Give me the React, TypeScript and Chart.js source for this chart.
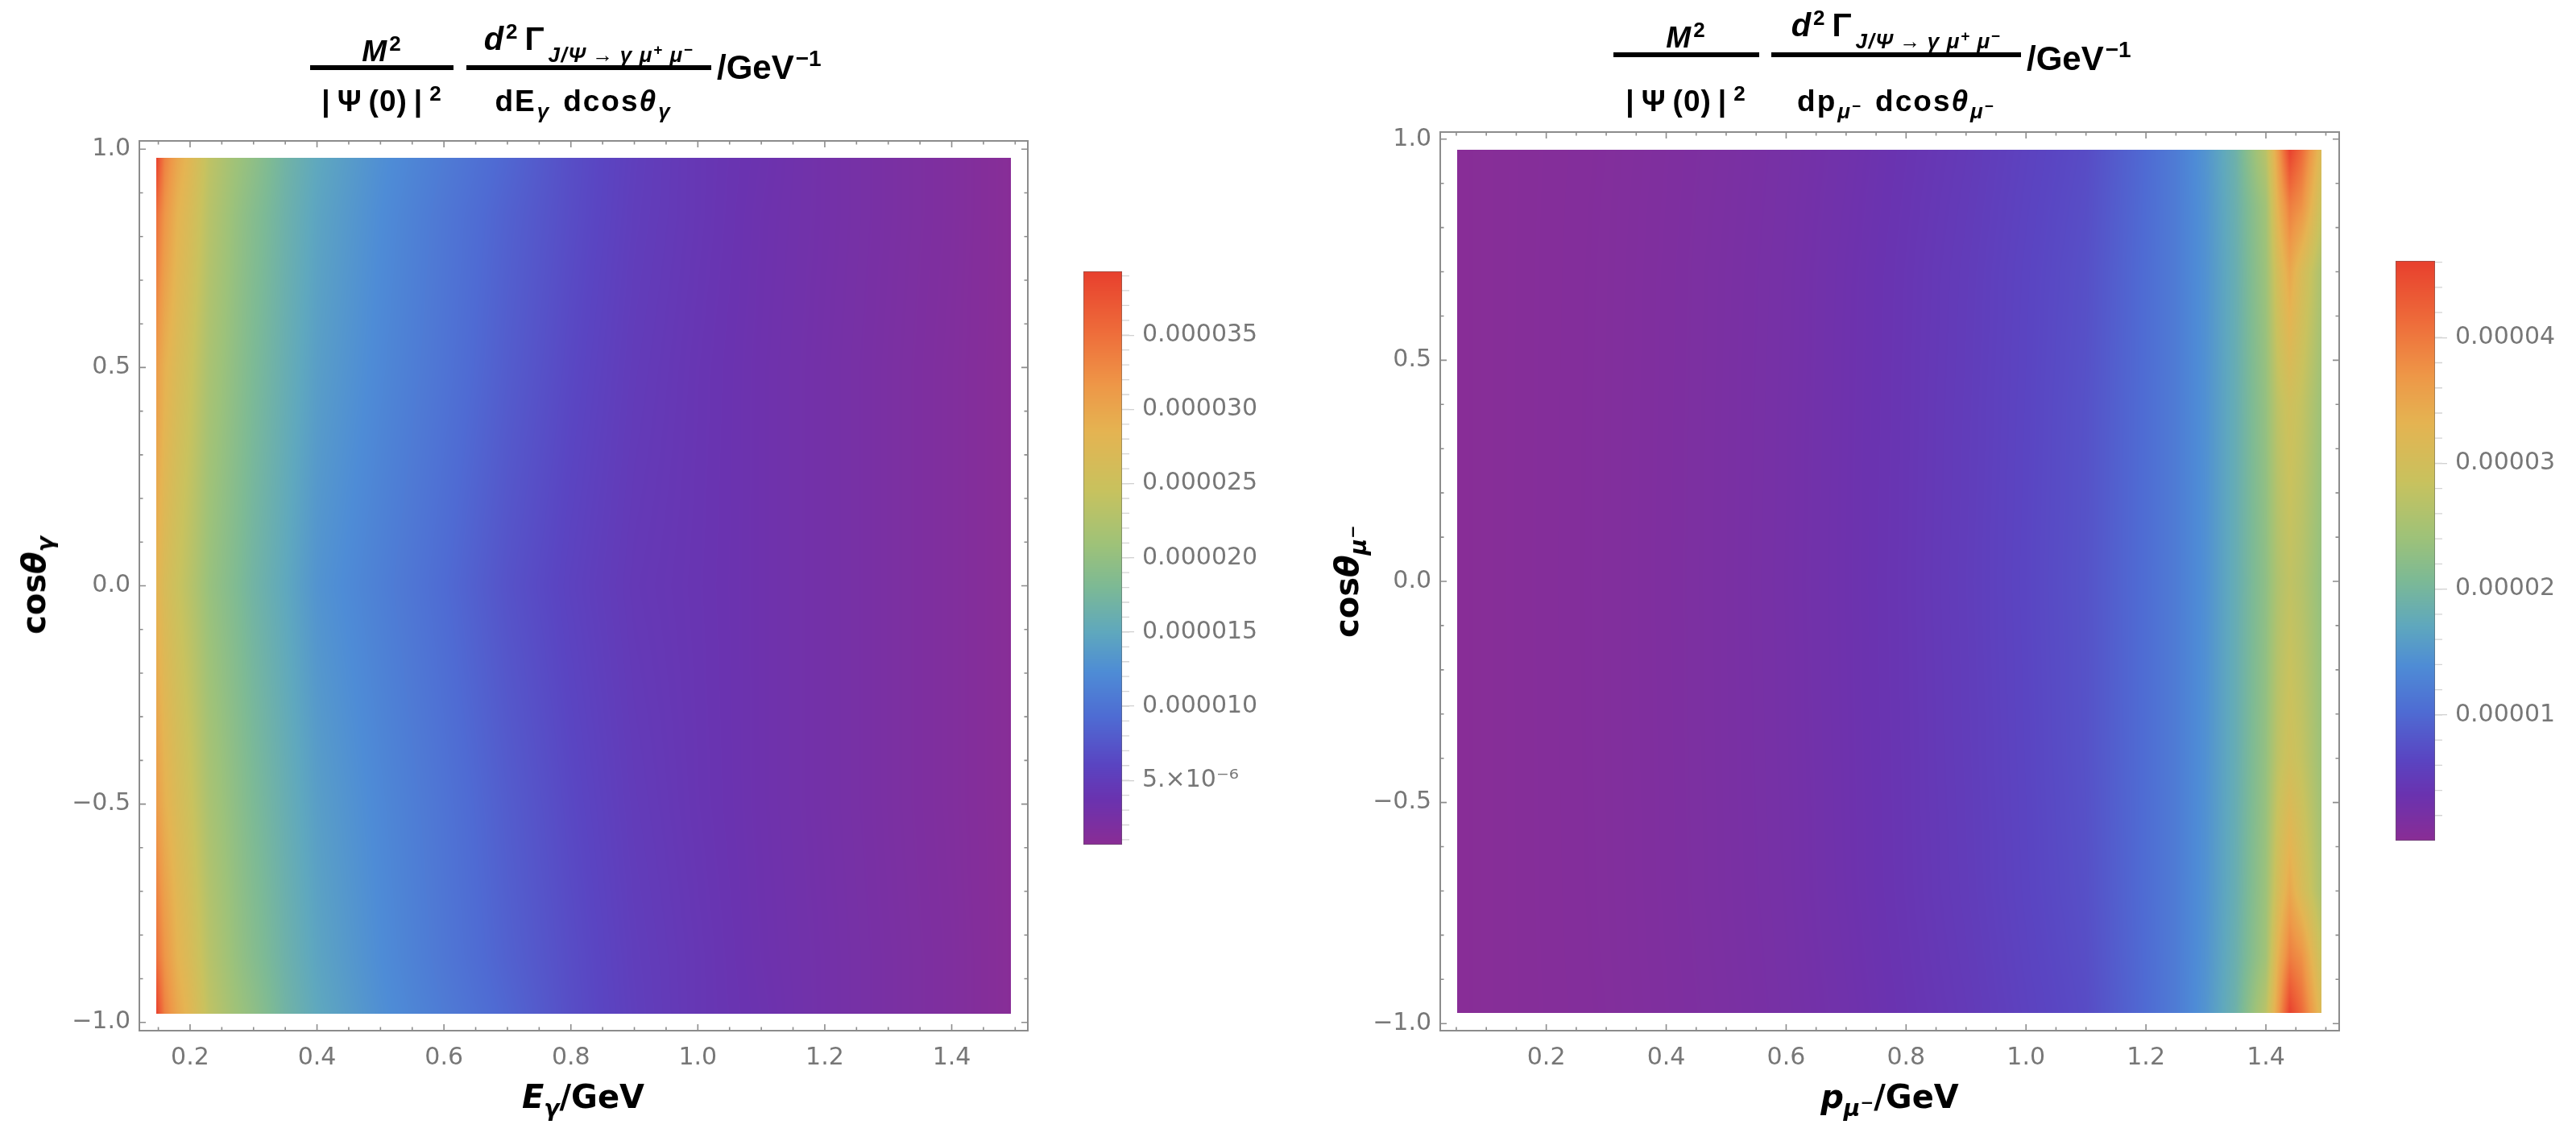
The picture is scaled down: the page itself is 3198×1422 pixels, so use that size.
import React, { useEffect, useRef } from "react";
import { Chart, registerables } from "chart.js";
Chart.register(...registerables);

// ---------------- data (values in units of 1e-6 GeV^-1) ----------------
const UNIT = 1e-6;

// left panel : d^2Γ / dEγ dcosθγ
const leftEnergy = [0.147, 0.16, 0.18, 0.2, 0.23, 0.27, 0.3, 0.35, 0.4, 0.5, 0.6, 0.7, 0.8, 0.9, 1.0, 1.1, 1.2, 1.3, 1.4, 1.493];
const leftCos = [-0.98, -0.85, -0.5, 0, 0.5, 0.85, 0.98];
const leftRowM098 = [39.3, 33.5, 30.0, 27.7, 23.8, 21.1, 19.6, 16.9, 15.0, 12.6, 10.7, 8.8, 6.8, 5.3, 4.3, 3.6, 2.9, 2.3, 1.7, 0.9];
const leftRowM085 = [35.0, 31.8, 28.6, 26.6, 23.1, 20.4, 18.8, 16.5, 14.6, 12.3, 10.3, 8.4, 6.7, 5.2, 4.3, 3.5, 2.9, 2.3, 1.7, 0.9];
const leftRowM050 = [31.2, 28.9, 26.8, 25.0, 21.9, 19.6, 18.0, 15.9, 14.0, 11.9, 10.0, 8.0, 6.3, 4.9, 4.1, 3.4, 2.8, 2.2, 1.6, 0.9];
const leftRow000 = [28.5, 26.6, 24.8, 23.1, 20.4, 18.4, 16.9, 15.0, 13.0, 11.1, 9.2, 7.2, 5.7, 4.5, 4.0, 3.4, 2.8, 2.2, 1.6, 0.9];
const leftRowP050 = [31.2, 28.9, 26.8, 25.0, 21.9, 19.6, 18.0, 15.9, 14.0, 11.9, 10.0, 8.0, 6.3, 4.9, 4.1, 3.4, 2.8, 2.2, 1.6, 0.9];
const leftRowP085 = [35.0, 31.8, 28.6, 26.6, 23.1, 20.4, 18.8, 16.5, 14.6, 12.3, 10.3, 8.4, 6.7, 5.2, 4.3, 3.5, 2.9, 2.3, 1.7, 0.9];
const leftRowP098 = [39.3, 33.5, 30.0, 27.7, 23.8, 21.1, 19.6, 16.9, 15.0, 12.6, 10.7, 8.8, 6.8, 5.3, 4.3, 3.6, 2.9, 2.3, 1.7, 0.9];
const leftColorRange = [0.67, 39.3];
const leftBarTicks = [5, 10, 15, 20, 25, 30, 35];
const leftBarLabels = ["5.×10⁻⁶", "0.000010", "0.000015", "0.000020", "0.000025", "0.000030", "0.000035"];
const leftXTicks = [0.2, 0.4, 0.6, 0.8, 1.0, 1.2, 1.4];

// right panel : d^2Γ / dpμ- dcosθμ-
const rightMomentum = [0.052, 0.1, 0.2, 0.3, 0.4, 0.5, 0.6, 0.7, 0.8, 0.9, 1.0, 1.1, 1.2, 1.25, 1.3, 1.35, 1.4, 1.42, 1.44, 1.46, 1.493];
const rightCos = [-0.976, -0.85, -0.7, -0.4, 0, 0.4, 0.7, 0.85, 0.976];
const rightRowM0976 = [0.23, 0.37, 0.65, 0.92, 1.3, 1.75, 2.3, 3.0, 3.9, 4.8, 6.0, 7.1, 10.1, 12.0, 14.8, 18.9, 27.0, 36.0, 46.0, 41.5, 31.3];
const rightRowM085 = [0.23, 0.37, 0.66, 0.95, 1.33, 1.8, 2.35, 3.1, 4.0, 4.95, 6.15, 7.3, 10.2, 12.0, 14.6, 18.5, 24.5, 33.5, 39.6, 37.5, 28.6];
const rightRowM070 = [0.23, 0.37, 0.67, 0.97, 1.36, 1.85, 2.4, 3.2, 4.1, 5.1, 6.3, 7.5, 10.3, 12.0, 14.5, 18.2, 24.0, 30.5, 35.0, 31.0, 25.4];
const rightRowM040 = [0.23, 0.37, 0.68, 0.99, 1.38, 1.88, 2.45, 3.25, 4.15, 5.2, 6.4, 7.7, 10.35, 12.0, 14.4, 18.0, 23.2, 27.5, 29.5, 28.0, 24.0];
const rightRow000 = [0.23, 0.37, 0.69, 1.0, 1.4, 1.9, 2.5, 3.3, 4.2, 5.3, 6.5, 7.8, 10.4, 12.0, 14.3, 18.0, 22.6, 26.0, 27.7, 26.5, 23.1];
const rightRowP040 = [0.23, 0.37, 0.68, 0.99, 1.38, 1.88, 2.45, 3.25, 4.15, 5.2, 6.4, 7.7, 10.35, 12.0, 14.4, 18.0, 23.2, 27.5, 29.5, 28.0, 24.0];
const rightRowP070 = [0.23, 0.37, 0.67, 0.97, 1.36, 1.85, 2.4, 3.2, 4.1, 5.1, 6.3, 7.5, 10.3, 12.0, 14.5, 18.2, 24.0, 30.5, 35.0, 31.0, 25.4];
const rightRowP085 = [0.23, 0.37, 0.66, 0.95, 1.33, 1.8, 2.35, 3.1, 4.0, 4.95, 6.15, 7.3, 10.2, 12.0, 14.6, 18.5, 24.5, 33.5, 39.6, 37.5, 28.6];
const rightRowP0976 = [0.23, 0.37, 0.65, 0.92, 1.3, 1.75, 2.3, 3.0, 3.9, 4.8, 6.0, 7.1, 10.1, 12.0, 14.8, 18.9, 27.0, 36.0, 46.0, 41.5, 31.3];
const rightColorRange = [0.0, 46.1];
const rightBarTicks = [10, 20, 30, 40];
const rightBarLabels = ["0.00001", "0.00002", "0.00003", "0.00004"];
const rightXTicks = [0.2, 0.4, 0.6, 0.8, 1.0, 1.2, 1.4];

const yTicks = [-1, -0.5, 0, 0.5, 1];

// ---------------- styling ----------------
const RAINBOW: [number, string][] = [
  [0, "#8A2D95"], [0.08, "#6A33B0"], [0.14, "#5A45C2"], [0.22, "#4F6BD3"],
  [0.3, "#4E8CD6"], [0.37, "#5FA8BE"], [0.45, "#7DBA95"], [0.52, "#9DC27A"],
  [0.62, "#C9C25E"], [0.72, "#E5B452"], [0.8, "#EE9848"], [0.9, "#EE6A3A"], [1, "#E8402E"],
];
const TICK_FONT = "'DejaVu Sans', sans-serif";
const AXIS_FONT = "'DejaVu Sans', sans-serif";
const TITLE_FONT = "'Liberation Sans', Arial, sans-serif";
const GRAY = "#777777";
const FRAME = "#8c8c8c";

const rgb = RAINBOW.map(([t, h]) => [t, parseInt(h.slice(1, 3), 16), parseInt(h.slice(3, 5), 16), parseInt(h.slice(5, 7), 16)]);
function colorAt(t: number): [number, number, number] {
  const u = Math.max(0, Math.min(1, t));
  for (let i = 0; i < rgb.length - 1; i++) {
    const a = rgb[i], b = rgb[i + 1];
    if (u <= b[0]) {
      const f = (u - a[0]) / (b[0] - a[0]);
      return [a[1] + (b[1] - a[1]) * f, a[2] + (b[2] - a[2]) * f, a[3] + (b[3] - a[3]) * f];
    }
  }
  const l = rgb[rgb.length - 1];
  return [l[1], l[2], l[3]];
}

function seg(arr: number[], v: number): [number, number] {
  if (v <= arr[0]) return [0, 0];
  const n = arr.length - 1;
  if (v >= arr[n]) return [n - 1, 1];
  for (let i = 0; i < n; i++) if (v <= arr[i + 1]) return [i, (v - arr[i]) / (arr[i + 1] - arr[i])];
  return [n - 1, 1];
}

function range(a: number, b: number, s: number) {
  const out: number[] = [];
  for (let v = a; v <= b + 1e-9; v += s) out.push(Math.round(v * 1000) / 1000);
  return out;
}

// heat map drawn from the grid through the chart scales
function heatPlugin(xs: number[], ys: number[], rows: number[][], cr: number[]) {
  return {
    id: "heat",
    beforeDatasetsDraw(chart: any) {
      const { ctx, scales } = chart;
      const x = scales.x, y = scales.y;
      const px0 = Math.round(x.getPixelForValue(xs[0]));
      const px1 = Math.round(x.getPixelForValue(xs[xs.length - 1]));
      const py0 = Math.round(y.getPixelForValue(ys[ys.length - 1]));
      const py1 = Math.round(y.getPixelForValue(ys[0]));
      const w = px1 - px0, h = py1 - py0;
      const off = document.createElement("canvas");
      off.width = w; off.height = h;
      const octx = off.getContext("2d")!;
      const img = octx.createImageData(w, h);
      const colSeg = [] as [number, number][];
      for (let i = 0; i < w; i++) colSeg.push(seg(xs, x.getValueForPixel(px0 + i + 0.5)));
      for (let j = 0; j < h; j++) {
        const [r, fy] = seg(ys, y.getValueForPixel(py0 + j + 0.5));
        const r0 = rows[r], r1 = rows[r + 1];
        for (let i = 0; i < w; i++) {
          const [c, fx] = colSeg[i];
          const a = r0[c] + (r0[c + 1] - r0[c]) * fx;
          const b = r1[c] + (r1[c + 1] - r1[c]) * fx;
          const v = a + (b - a) * fy;
          const col = colorAt((v - cr[0]) / (cr[1] - cr[0]));
          const k = (j * w + i) * 4;
          img.data[k] = col[0]; img.data[k + 1] = col[1]; img.data[k + 2] = col[2]; img.data[k + 3] = 255;
        }
      }
      octx.putImageData(img, 0, 0);
      ctx.drawImage(off, px0, py0);
    },
  };
}

function framePlugin(xMajor: number[], xMinor: number[], yMajor: number[], yMinor: number[]) {
  return {
    id: "frame",
    afterDraw(chart: any) {
      const { ctx, chartArea: a, scales } = chart;
      ctx.save();
      ctx.strokeStyle = FRAME;
      ctx.lineWidth = 2;
      ctx.strokeRect(a.left, a.top, a.right - a.left, a.bottom - a.top);
      ctx.lineWidth = 1.6;
      ctx.beginPath();
      const xt = (vals: number[], len: number) => vals.forEach((v) => {
        const p = scales.x.getPixelForValue(v);
        if (p < a.left || p > a.right) return;
        ctx.moveTo(p, a.bottom); ctx.lineTo(p, a.bottom - len);
        ctx.moveTo(p, a.top); ctx.lineTo(p, a.top + len);
      });
      const yt = (vals: number[], len: number) => vals.forEach((v) => {
        const p = scales.y.getPixelForValue(v);
        if (p < a.top || p > a.bottom) return;
        ctx.moveTo(a.left, p); ctx.lineTo(a.left + len, p);
        ctx.moveTo(a.right, p); ctx.lineTo(a.right - len, p);
      });
      xt(xMajor, 8); xt(xMinor, 4.5); yt(yMajor, 8); yt(yMinor, 4.5);
      ctx.stroke();
      ctx.restore();
    },
  };
}

function barPlugin(cr: number[], minor: number[]) {
  return {
    id: "cbar",
    beforeDatasetsDraw(chart: any) {
      const { ctx, chartArea: a, scales } = chart;
      const y = scales.y;
      for (let p = Math.floor(a.top); p < a.bottom; p++) {
        const v = y.getValueForPixel(p + 0.5);
        const c = colorAt((v - cr[0]) / (cr[1] - cr[0]));
        ctx.fillStyle = `rgb(${c[0] | 0},${c[1] | 0},${c[2] | 0})`;
        ctx.fillRect(a.left, p, a.right - a.left, 1);
      }
      ctx.save();
      ctx.strokeStyle = "rgba(90,90,90,0.45)";
      ctx.lineWidth = 1;
      ctx.strokeRect(a.left + 0.5, a.top + 0.5, a.right - a.left - 1, a.bottom - a.top - 1);
      ctx.strokeStyle = "#d4d4d4";
      ctx.lineWidth = 1.3;
      ctx.beginPath();
      minor.forEach((v) => {
        const p = y.getPixelForValue(v);
        if (p < a.top || p > a.bottom) return;
        ctx.moveTo(a.right, p); ctx.lineTo(a.right + 9, p);
      });
      ctx.stroke();
      ctx.restore();
    },
  };
}

const fmtY = (v: number) => (v < 0 ? "−" : "") + Math.abs(v).toFixed(1);

function mainConfig(o: any) {
  const points: any[] = [];
  o.ys.forEach((yv: number, r: number) => o.xs.forEach((xv: number, c: number) => points.push({ x: xv, y: yv, v: o.rows[r][c] * UNIT })));
  return {
    type: "scatter",
    data: { datasets: [{ data: points, pointRadius: 0, pointHoverRadius: 0, showLine: false }] },
    options: {
      animation: false, responsive: false, devicePixelRatio: 1,
      layout: { padding: { top: o.top, right: o.right, left: 0, bottom: 0 } },
      plugins: { legend: { display: false }, tooltip: { enabled: false } },
      scales: {
        x: {
          type: "linear", min: o.xmin, max: o.xmax,
          grid: { display: false, drawTicks: false }, border: { display: false },
          ticks: { font: { family: TICK_FONT, size: 30 }, color: GRAY, padding: 16, callback: (v: number) => v.toFixed(1) },
          afterBuildTicks: (s: any) => { s.ticks = o.xTicks.map((v: number) => ({ value: v })); },
          afterFit: (s: any) => { s.height = o.xAxisH; },
        },
        y: {
          type: "linear", min: o.ymin, max: o.ymax,
          grid: { display: false, drawTicks: false }, border: { display: false },
          ticks: { font: { family: TICK_FONT, size: 30 }, color: GRAY, padding: 11, callback: (v: number) => fmtY(v) },
          afterBuildTicks: (s: any) => { s.ticks = yTicks.map((v) => ({ value: v })); },
          afterFit: (s: any) => { s.width = o.yAxisW; },
        },
      },
    },
    plugins: [heatPlugin(o.xs, o.ys, o.rows, o.cr), framePlugin(o.xTicks, o.xMinor, yTicks, range(-1, 1, 0.1))],
  };
}

function barConfig(o: any) {
  return {
    type: "scatter",
    data: { datasets: [{ data: o.ticks.map((t: number) => ({ x: 0, y: t })), pointRadius: 0, pointHoverRadius: 0 }] },
    options: {
      animation: false, responsive: false, devicePixelRatio: 1,
      layout: { padding: { top: o.top, bottom: o.bottom, left: o.left, right: 0 } },
      plugins: { legend: { display: false }, tooltip: { enabled: false } },
      scales: {
        x: { display: false, min: 0, max: 1 },
        y: {
          position: "right", min: o.cr[0], max: o.cr[1],
          grid: { display: true, drawOnChartArea: false, drawTicks: true, tickLength: 15, color: "#d0d0d0", lineWidth: 1.3 },
          border: { display: false },
          ticks: {
            font: { family: TICK_FONT, size: 30 }, color: GRAY, padding: 10,
            callback: (v: number) => { const i = o.ticks.indexOf(v); return i >= 0 ? o.labels[i] : ""; },
          },
          afterBuildTicks: (s: any) => { s.ticks = o.ticks.map((v: number) => ({ value: v })); },
          afterFit: (s: any) => { s.width = o.axisW; },
        },
      },
    },
    plugins: [barPlugin(o.cr, o.minor)],
  };
}

function ChartCanvas({ cfg, left, top, width, height }: any) {
  const ref = useRef<HTMLCanvasElement>(null);
  useEffect(() => {
    const ch = new Chart(ref.current!, cfg);
    return () => ch.destroy();
  }, []);
  return <canvas ref={ref} width={width} height={height} style={{ position: "absolute", left, top, width, height }} />;
}

const B: React.CSSProperties = { fontWeight: 700, color: "#000", whiteSpace: "nowrap" };
const up = (c: any, size: number, dy: number, ml = 0) => <span style={{ fontSize: size, position: "relative", top: -dy, marginLeft: ml }}>{c}</span>;
const dn = (c: any, size: number, dy: number, ml = 0) => <span style={{ fontSize: size, position: "relative", top: dy, marginLeft: ml }}>{c}</span>;

const FS = 37;
// text block with its baseline placed at y; anchored at centre (cx) or left (lx)
function TextAt({ cx, lx, baseline, size = FS, children, ls = 1 }: any) {
  const centred = cx !== undefined;
  return (
    <div style={{ ...B, fontFamily: TITLE_FONT, position: "absolute", left: centred ? cx : lx, top: baseline - 0.8465 * size, transform: centred ? "translateX(-50%)" : undefined, fontSize: size, lineHeight: `${size}px`, letterSpacing: ls }}>
      {children}
    </div>
  );
}
function Bar({ x0, x1, y }: any) {
  return <div style={{ position: "absolute", left: x0, top: y - 3, width: x1 - x0, height: 6, background: "#000" }} />;
}

const gammaNum = (
  <span>
    <i style={{ fontSize: 40 }}>d</i>{up("2", 26, 14, 2)}<span style={{ marginLeft: 8, fontSize: 40 }}>Γ</span>
    {dn(<i style={{ letterSpacing: 1.5 }}>J/Ψ<span style={{ margin: "0 7px" }}>→</span>γ<span style={{ marginLeft: 8 }}>μ</span>{up("+", 19, 9)}<span style={{ marginLeft: 8 }}>μ</span>{up("−", 19, 9)}</i>, 26, 15, 4)}
  </span>
);

export default function App() {
  const leftRows = [leftRowM098, leftRowM085, leftRowM050, leftRow000, leftRowP050, leftRowP085, leftRowP098];
  const rightRows = [rightRowM0976, rightRowM085, rightRowM070, rightRowM040, rightRow000, rightRowP040, rightRowP070, rightRowP085, rightRowP0976];

  const leftMain = mainConfig({
    xs: leftEnergy, ys: leftCos, rows: leftRows, cr: leftColorRange, xTicks: leftXTicks, xMinor: range(0.15, 1.5, 0.05),
    xmin: 0.1201, xmax: 1.5199, ymin: -1.019, ymax: 1.019, top: 175, right: 24, xAxisH: 142, yAxisW: 173,
  });
  const rightMain = mainConfig({
    xs: rightMomentum, ys: rightCos, rows: rightRows, cr: rightColorRange, xTicks: rightXTicks, xMinor: range(0.05, 1.5, 0.05),
    xmin: 0.0232, xmax: 1.5222, ymin: -1.016, ymax: 1.016, top: 164, right: 46, xAxisH: 142, yAxisW: 138,
  });
  const leftBar = barConfig({ cr: leftColorRange, ticks: leftBarTicks, labels: leftBarLabels, minor: range(1, 39, 1), top: 337, bottom: 373, left: 45, axisW: 257 });
  const rightBar = barConfig({ cr: rightColorRange, ticks: rightBarTicks, labels: rightBarLabels, minor: range(2, 46, 2), top: 324, bottom: 378, left: 24, axisW: 175 });

  const mPsi = <span>|<span style={{ marginLeft: 8 }}>Ψ</span><span style={{ marginLeft: 8 }}>(0)</span><span style={{ marginLeft: 8 }}>|</span>{up("2", 26, 13, 8)}</span>;
  const leftDen = <span style={{ letterSpacing: 2 }}>dE{dn(<i>γ</i>, 26, 9, 1)}<span style={{ marginLeft: 16 }}>dcos</span><i>θ</i>{dn(<i>γ</i>, 26, 9, 1)}</span>;
  const muMinus = <span><i>μ</i>{up("−", 19, 9)}</span>;
  const rightDen = <span style={{ letterSpacing: 2 }}>dp{dn(muMinus, 26, 9, 1)}<span style={{ marginLeft: 16 }}>dcos</span><i>θ</i>{dn(muMinus, 26, 9, 1)}</span>;

  return (
    <div style={{ position: "absolute", left: 0, top: 0, width: 3198, height: 1422, background: "#fff", overflow: "hidden" }}>
      <ChartCanvas cfg={leftMain} left={0} top={0} width={1300} height={1422} />
      <ChartCanvas cfg={leftBar} left={1300} top={0} width={350} height={1422} />
      <ChartCanvas cfg={rightMain} left={1650} top={0} width={1300} height={1422} />
      <ChartCanvas cfg={rightBar} left={2950} top={0} width={248} height={1422} />

      {/* left title */}
      <TextAt cx={474} baseline={76}><i>M</i>{up("2", 26, 13, 2)}</TextAt>
      <Bar x0={385} x1={563} y={84} />
      <TextAt cx={474} baseline={138}>{mPsi}</TextAt>
      <TextAt cx={731} baseline={61}>{gammaNum}</TextAt>
      <Bar x0={579} x1={883} y={84} />
      <TextAt cx={724} baseline={138}>{leftDen}</TextAt>
      <TextAt lx={890} baseline={99} size={42} ls={0}>/GeV{up("−1", 28, 16, 2)}</TextAt>

      {/* right title */}
      <TextAt cx={2093} baseline={59}><i>M</i>{up("2", 26, 13, 2)}</TextAt>
      <Bar x0={2003} x1={2184} y={68} />
      <TextAt cx={2093} baseline={138}>{mPsi}</TextAt>
      <TextAt cx={2354} baseline={44}>{gammaNum}</TextAt>
      <Bar x0={2199} x1={2509} y={68} />
      <TextAt cx={2354} baseline={138}>{rightDen}</TextAt>
      <TextAt lx={2516} baseline={88} size={42} ls={0}>/GeV{up("−1", 28, 16, 2)}</TextAt>

      {/* axis titles */}
      <div style={{ ...B, fontFamily: AXIS_FONT, position: "absolute", left: 724, top: 1362, transform: "translate(-50%,-50%)", fontSize: 40 }}>
        <i>E</i>{dn(<i>γ</i>, 28, 10)}/GeV
      </div>
      <div style={{ ...B, fontFamily: AXIS_FONT, position: "absolute", left: 2346, top: 1362, transform: "translate(-50%,-50%)", fontSize: 40 }}>
        <i>p</i>{dn(<span><i>μ</i>{up("−", 20, 10)}</span>, 28, 10)}/GeV
      </div>
      <div style={{ ...B, fontFamily: AXIS_FONT, position: "absolute", left: 42, top: 727, transform: "translate(-50%,-50%) rotate(-90deg)", fontSize: 40 }}>
        cos<i>θ</i>{dn(<i>γ</i>, 28, 10)}
      </div>
      <div style={{ ...B, fontFamily: AXIS_FONT, position: "absolute", left: 1672, top: 722, transform: "translate(-50%,-50%) rotate(-90deg)", fontSize: 40 }}>
        cos<i>θ</i>{dn(<span><i>μ</i>{up("−", 20, 10)}</span>, 28, 10)}
      </div>
    </div>
  );
}
